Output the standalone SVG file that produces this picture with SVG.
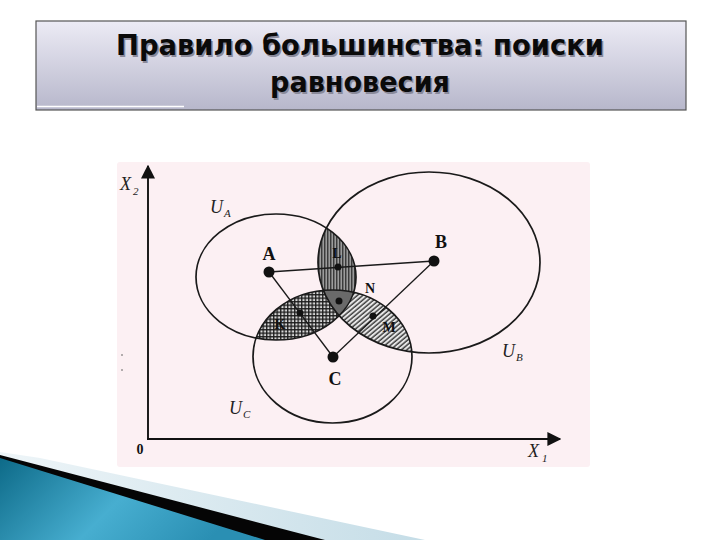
<svg xmlns="http://www.w3.org/2000/svg" width="720" height="540" viewBox="0 0 720 540">
<defs>
  <linearGradient id="titleGrad" x1="0" y1="0" x2="0" y2="1">
    <stop offset="0" stop-color="#ecebf5"/>
    <stop offset="1" stop-color="#b7b7cb"/>
  </linearGradient>
  <linearGradient id="blueGrad" x1="0" y1="0" x2="1" y2="0.3">
    <stop offset="0" stop-color="#0d6a88"/>
    <stop offset="0.55" stop-color="#47aed0"/>
    <stop offset="1" stop-color="#2a8fb3"/>
  </linearGradient>
  <linearGradient id="paleGrad" x1="0" y1="0" x2="1" y2="0">
    <stop offset="0" stop-color="#eef5f8"/>
    <stop offset="1" stop-color="#c5dde7"/>
  </linearGradient>
  <pattern id="vhatch" patternUnits="userSpaceOnUse" width="3" height="3">
    <rect width="3" height="3" fill="#9c9c9c"/>
    <line x1="0.8" y1="0" x2="0.8" y2="3" stroke="#1a1a1a" stroke-width="1.1"/>
  </pattern>
  <pattern id="cross" patternUnits="userSpaceOnUse" width="3.5" height="3.5">
    <rect width="3.5" height="3.5" fill="#d8d8d8"/>
    <line x1="0" y1="0.7" x2="3.5" y2="0.7" stroke="#1a1a1a" stroke-width="1.3"/>
    <line x1="0.7" y1="0" x2="0.7" y2="3.5" stroke="#1a1a1a" stroke-width="1.3"/>
  </pattern>
  <pattern id="diag" patternUnits="userSpaceOnUse" width="3.5" height="3.5" patternTransform="rotate(-40)">
    <rect width="3.5" height="3.5" fill="#e6e6e6"/>
    <line x1="0" y1="1" x2="3.5" y2="1" stroke="#1a1a1a" stroke-width="1.2"/>
  </pattern>
  <clipPath id="clipA"><ellipse cx="276" cy="277" rx="80" ry="63"/></clipPath>
  <clipPath id="clipB"><ellipse cx="429" cy="262.5" rx="111" ry="90.5"/></clipPath>
  <marker id="arrow" viewBox="0 0 10 10" refX="9" refY="5" markerWidth="14" markerHeight="14" markerUnits="userSpaceOnUse" orient="auto">
    <path d="M0,0 L10,5 L0,10 z" fill="#111"/>
  </marker>
  <style>
    .title { font-family: "DejaVu Sans", "Liberation Sans", sans-serif; font-weight: bold; font-size: 29px; fill: #0a0a0a; text-anchor: middle; }
    .shadow { font-family: "DejaVu Sans", "Liberation Sans", sans-serif; font-weight: bold; font-size: 29px; fill: #8a8a9a; text-anchor: middle; }
    .curve { fill: none; stroke: #1a1a1a; stroke-width: 1.7; }
    .axis { fill: none; stroke: #111; stroke-width: 1.9; }
    .conn { fill: none; stroke: #1a1a1a; stroke-width: 1.3; }
    .pt { fill: #111; }
    .big { font-family: "Liberation Serif", "DejaVu Serif", serif; font-weight: bold; font-size: 18px; fill: #111; text-anchor: middle; }
    .small { font-family: "Liberation Serif", "DejaVu Serif", serif; font-weight: bold; font-size: 14px; fill: #111; text-anchor: middle; }
    .ital { font-family: "Liberation Serif", "DejaVu Serif", serif; font-style: italic; font-size: 18px; fill: #222; }
    .sub { font-family: "Liberation Serif", "DejaVu Serif", serif; font-style: italic; font-size: 11px; fill: #222; }
  </style>
</defs>

<rect width="720" height="540" fill="#ffffff"/>

<!-- title -->
<g id="title">
  <rect x="36" y="21" width="650" height="89" fill="url(#titleGrad)" stroke="#555" stroke-width="1.2"/>
  <line x1="37" y1="106.5" x2="184" y2="106.5" stroke="#ffffff" stroke-width="1.5"/>
  <text class="shadow" x="361.5" y="56.5" textLength="488" lengthAdjust="spacingAndGlyphs">Правило большинства: поиски</text>
  <text class="title" x="360" y="55" textLength="488" lengthAdjust="spacingAndGlyphs">Правило большинства: поиски</text>
  <text class="shadow" x="361.5" y="93.5" textLength="180" lengthAdjust="spacingAndGlyphs">равновесия</text>
  <text class="title" x="360" y="92" textLength="180" lengthAdjust="spacingAndGlyphs">равновесия</text>
</g>

<!-- picture background -->
<rect x="117" y="162" width="473" height="305" rx="3" fill="#fcf0f3"/>

<!-- shaded regions -->
<g id="regions">
  <g clip-path="url(#clipA)"><ellipse cx="429" cy="262.5" rx="111" ry="90.5" fill="url(#vhatch)"/></g>
  <g clip-path="url(#clipA)"><ellipse cx="332.5" cy="356.5" rx="79.5" ry="66.5" fill="url(#cross)"/></g>
  <g clip-path="url(#clipB)"><ellipse cx="332.5" cy="356.5" rx="79.5" ry="66.5" fill="url(#diag)"/></g>
  <g clip-path="url(#clipA)"><g clip-path="url(#clipB)"><ellipse cx="332.5" cy="356.5" rx="79.5" ry="66.5" fill="#6a6a6a"/></g></g>
</g>

<!-- indifference curves -->
<g id="U_A"><ellipse class="curve" cx="276" cy="277" rx="80" ry="63"/>
  <text class="ital" x="210" y="213">U</text><text class="sub" x="224" y="217">A</text></g>
<g id="U_B"><ellipse class="curve" cx="429" cy="262.5" rx="111" ry="90.5"/>
  <text class="ital" x="502" y="357">U</text><text class="sub" x="516" y="361">B</text></g>
<g id="U_C"><ellipse class="curve" cx="332.5" cy="356.5" rx="79.5" ry="66.5"/>
  <text class="ital" x="229" y="414">U</text><text class="sub" x="243" y="418">C</text></g>

<!-- axes -->
<g id="axes">
  <line class="axis" x1="148" y1="439" x2="148" y2="166" marker-end="url(#arrow)"/>
  <line class="axis" x1="147" y1="439" x2="560" y2="439" marker-end="url(#arrow)"/>
  <text class="ital" x="120" y="190">X</text><text class="sub" x="133" y="195">2</text>
  <text class="ital" x="528" y="457">X</text><text class="sub" x="542" y="462">1</text>
  <text class="small" x="140" y="454" font-size="15">0</text>
  <circle cx="122" cy="355" r="0.8" fill="#555"/>
  <circle cx="122" cy="370" r="0.8" fill="#555"/>
</g>

<!-- connectors -->
<g id="connectors">
  <line class="conn" x1="269" y1="272" x2="434" y2="261"/>
  <line class="conn" x1="269" y1="272" x2="333" y2="357"/>
  <line class="conn" x1="434" y1="261" x2="333" y2="357"/>
</g>

<!-- points -->
<g id="node-A"><circle class="pt" cx="269" cy="272" r="5.5"/><text class="big" x="269" y="260">A</text></g>
<g id="node-B"><circle class="pt" cx="434" cy="261" r="5.5"/><text class="big" x="441" y="248">B</text></g>
<g id="node-C"><circle class="pt" cx="333" cy="357" r="5.5"/><text class="big" x="335" y="385">C</text></g>
<g id="node-L"><circle class="pt" cx="338" cy="267" r="3.5"/><text class="small" x="337" y="258">L</text></g>
<g id="node-N"><circle class="pt" cx="339" cy="301" r="3.5"/><text class="small" x="370" y="293">N</text></g>
<g id="node-K"><circle class="pt" cx="300" cy="313" r="3.5"/><text class="small" x="280" y="329">K</text></g>
<g id="node-M"><circle class="pt" cx="373" cy="316" r="3.5"/><text class="small" x="389" y="332">M</text></g>

<!-- bottom decoration -->
<g id="decoration">
  <polygon points="40,458 425,540 0,540 0,452" fill="url(#paleGrad)"/>
  <polygon points="0,455 325,540 0,540" fill="#050505"/>
  <polygon points="0,458 265,540 0,540" fill="url(#blueGrad)"/>
</g>
</svg>
